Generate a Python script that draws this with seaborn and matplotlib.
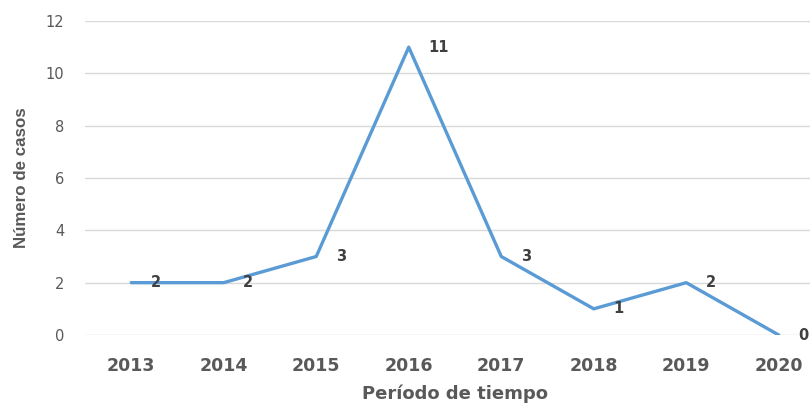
import matplotlib
matplotlib.use("Agg")
import matplotlib.pyplot as plt
import seaborn as sns
import pandas as pd

# data
years = ["2013", "2014", "2015", "2016", "2017", "2018", "2019", "2020"]
cases = [2, 2, 3, 11, 3, 1, 2, 0]

df = pd.DataFrame({"year": years, "cases": cases})

sns.set_style("white")
plt.rcParams["font.family"] = ["DejaVu Sans"]

fig = plt.figure(figsize=(8.1, 4.03), dpi=100)
ax = fig.add_axes([85 / 810, 68 / 403, 740 / 810, 314 / 403])

sns.lineplot(data=df, x="year", y="cases", color="#5B9BD5", linewidth=2.4, ax=ax)

# data labels to the right of each point
for i, v in enumerate(cases):
    ax.annotate(str(v), (i, v), xytext=(14, 0), textcoords="offset points",
                ha="left", va="center", fontsize=10.5, fontweight="semibold",
                color="#404040", annotation_clip=False)

ax.set_xlim(-0.5, 7.5)
ax.set_ylim(0, 12)
ax.set_yticks(range(0, 13, 2))
ax.grid(axis="y", color="#D9D9D9", linewidth=1)
ax.grid(axis="x", visible=False)
for s in ax.spines.values():
    s.set_visible(False)

ax.tick_params(axis="y", length=0, pad=15, labelsize=10.5, labelcolor="#595959")
ax.tick_params(axis="x", length=0, pad=16, labelsize=12.5, labelcolor="#595959")
for t in ax.get_xticklabels():
    t.set_fontweight("bold")

ax.set_xlabel("Período de tiempo", fontsize=13, fontweight="bold", color="#595959", labelpad=7)
ax.set_ylabel("Número de casos", fontsize=12.2, fontweight="bold", color="#595959",
              family="Liberation Sans", labelpad=12)

fig.savefig("out.png", dpi=100)
